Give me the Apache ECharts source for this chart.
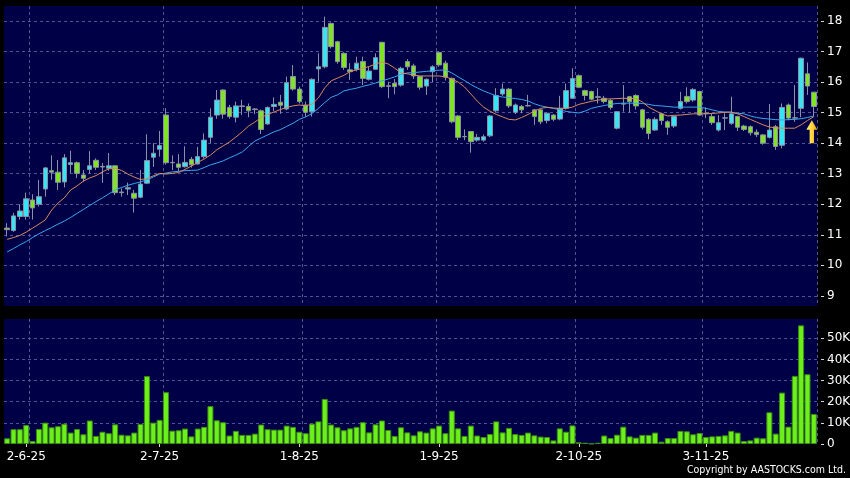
<!DOCTYPE html>
<html>
<head>
<meta charset="utf-8">
<script src="https://cdn.jsdelivr.net/npm/echarts@6/dist/echarts.min.js"></script>
<style>html,body{margin:0;padding:0;background:#000;}#c{width:850px;height:478px;}</style>
</head>
<body>
<div id="c"></div>
<script>
// ---- data ----
const opens = [11.22,11.14,11.60,11.60,12.14,12.00,12.50,13.10,13.05,12.73,
13.30,13.36,12.96,13.14,13.44,13.24,13.18,13.26,12.40,12.50,
12.36,12.23,12.69,13.54,13.80,14.92,13.36,13.32,13.23,13.47,
13.32,13.56,14.19,14.92,15.74,15.17,14.85,15.20,15.20,15.12,
15.06,14.63,15.20,15.34,15.12,16.18,15.77,15.25,15.03,16.43,
16.50,17.92,17.32,16.94,16.40,16.42,16.67,16.09,16.42,17.30,
15.88,15.96,15.90,16.67,16.53,16.18,15.87,16.34,16.97,16.62,
16.12,14.89,14.22,14.38,14.10,14.10,14.24,15.06,15.61,15.77,
15.01,15.20,15.22,15.09,15.09,14.74,14.92,14.79,15.14,15.47,
16.21,15.72,15.69,15.50,15.47,15.40,14.49,15.28,15.52,15.56,
15.09,14.78,14.43,14.96,14.70,14.56,15.14,15.53,15.41,15.69,
14.98,14.87,14.43,14.82,14.65,14.87,14.56,14.54,14.36,14.27,
14.19,14.54,13.93,15.25,14.83,15.14,16.27,15.67];
const closes = [11.17,11.62,11.78,12.18,11.88,12.25,13.19,13.05,12.72,13.52,
13.36,13.01,12.85,13.26,13.21,13.22,13.26,12.38,12.38,12.54,
12.20,12.66,13.43,13.67,13.92,13.36,13.37,13.21,13.37,13.29,
13.56,14.10,14.85,15.41,14.95,14.87,15.22,15.22,15.06,15.10,
14.45,15.17,15.27,15.24,15.98,15.77,15.36,15.01,16.09,16.50,
17.79,17.16,16.67,16.48,16.34,16.62,16.12,16.36,16.80,15.85,
15.86,15.85,16.45,16.50,16.20,15.83,16.09,16.50,16.56,16.16,
14.70,14.19,14.21,14.05,14.19,14.21,14.89,15.56,15.77,15.22,
15.25,15.09,15.23,14.87,14.70,14.98,14.78,15.14,15.72,16.12,
15.83,15.56,15.44,15.52,15.36,15.17,15.03,15.29,15.36,15.22,
14.52,14.32,14.78,14.74,14.52,14.87,15.36,15.36,15.76,14.92,
14.97,14.67,14.67,14.83,14.96,14.52,14.45,14.34,14.28,14.00,
14.43,13.89,15.17,14.82,14.82,16.78,15.87,15.20];
const lows = [10.95,11.10,11.50,11.50,11.50,11.93,12.25,12.80,12.47,12.55,
13.02,12.86,12.74,13.01,13.12,12.70,13.10,12.30,12.25,12.30,
11.73,12.20,12.66,13.22,13.56,13.30,13.12,13.07,13.20,13.20,
13.30,13.50,14.00,14.80,14.80,14.80,14.68,14.92,14.85,14.95,
14.30,14.60,15.05,14.96,15.08,15.72,15.30,14.87,14.87,16.01,
16.45,17.10,16.60,16.40,16.07,16.35,15.90,16.05,16.40,15.80,
15.47,15.60,15.85,16.40,16.10,15.75,15.58,16.00,16.50,16.05,
14.65,14.10,14.10,13.69,14.05,14.05,14.20,15.00,15.55,15.15,
14.95,14.98,15.20,14.60,14.62,14.65,14.72,14.75,15.10,15.45,
15.80,15.40,15.40,15.30,15.30,15.10,14.45,15.03,15.00,15.10,
14.45,14.13,14.40,14.60,14.27,14.50,15.10,15.30,15.35,14.90,
14.82,14.60,14.38,14.43,14.60,14.40,14.40,14.25,14.20,13.95,
14.15,13.78,13.83,14.75,14.70,14.85,15.58,14.89];
const highs = [11.38,11.72,12.00,12.38,12.33,12.80,13.22,13.60,13.45,13.64,
13.75,13.40,13.12,13.74,13.50,13.35,13.68,13.28,12.52,12.71,
12.47,13.12,14.29,14.00,14.40,15.14,13.60,13.64,13.90,13.55,
13.88,14.32,15.14,15.74,15.76,15.25,15.36,15.42,15.30,15.15,
15.10,15.20,15.50,15.58,16.18,16.56,15.85,15.36,16.12,16.94,
18.14,17.95,17.35,16.98,16.62,16.83,16.83,16.50,16.94,17.32,
16.01,16.10,16.50,16.75,16.60,16.20,16.12,16.55,17.00,16.70,
16.15,14.92,14.45,14.40,14.30,14.28,14.92,15.80,15.95,15.80,
15.30,15.25,15.58,15.12,15.12,15.00,14.95,15.55,15.95,16.45,
16.25,15.75,15.72,15.80,15.55,15.45,15.05,15.90,15.55,15.60,
15.12,14.82,14.85,15.00,14.75,14.90,15.68,15.83,15.80,15.72,
15.17,14.98,14.92,14.98,15.52,14.90,14.60,14.58,14.45,14.30,
15.28,14.60,15.30,15.30,15.90,16.80,16.64,15.67];
// fast (orange) and slow (blue) moving-average lines
const maFast = [10.85,10.91,10.98,11.09,11.22,11.35,11.49,11.81,12.04,12.21,
12.47,12.60,12.76,12.86,12.94,13.06,13.16,13.17,13.11,12.99,
12.89,12.81,12.84,12.93,13.01,12.99,13.01,13.04,13.14,13.25,
13.37,13.48,13.61,13.78,13.91,14.04,14.20,14.37,14.56,14.69,
14.84,14.94,15.02,15.10,15.17,15.22,15.25,15.22,15.28,15.48,
15.81,16.04,16.13,16.22,16.34,16.40,16.45,16.51,16.59,16.66,
16.59,16.46,16.30,16.27,16.23,16.20,16.20,16.20,16.20,16.17,
16.10,16.00,15.84,15.61,15.38,15.18,15.05,14.94,14.86,14.78,
14.76,14.84,14.94,15.05,15.14,15.17,15.15,15.14,15.14,15.18,
15.27,15.32,15.37,15.41,15.44,15.45,15.46,15.47,15.46,15.46,
15.35,15.18,15.07,14.96,14.89,14.91,14.92,14.94,14.96,14.96,
14.96,14.97,14.99,15.01,15.02,14.96,14.87,14.78,14.69,14.60,
14.53,14.50,14.49,14.49,14.49,14.60,14.74,14.87];
const maSlow = [10.44,10.55,10.67,10.78,10.91,11.03,11.14,11.24,11.35,11.45,
11.57,11.70,11.83,11.96,12.09,12.21,12.34,12.47,12.55,12.62,
12.68,12.73,12.80,12.89,12.99,13.02,13.06,13.08,13.10,13.11,
13.12,13.20,13.29,13.35,13.42,13.52,13.61,13.71,13.89,14.07,
14.17,14.27,14.37,14.44,14.55,14.65,14.78,14.86,14.97,15.14,
15.33,15.50,15.58,15.71,15.76,15.80,15.86,15.91,15.97,16.04,
16.10,16.17,16.25,16.30,16.31,16.33,16.35,16.37,16.39,16.39,
16.30,16.17,16.05,15.92,15.81,15.71,15.63,15.55,15.51,15.49,
15.46,15.43,15.38,15.29,15.22,15.18,15.14,15.09,15.04,15.01,
14.99,15.05,15.14,15.19,15.23,15.27,15.30,15.31,15.31,15.31,
15.30,15.27,15.23,15.22,15.20,15.18,15.18,15.18,15.18,15.18,
15.14,15.09,15.04,15.02,15.01,14.98,14.96,14.89,14.84,14.81,
14.79,14.77,14.76,14.77,14.78,14.80,14.84,14.89];
const volumes = [2700,7000,7000,9000,1400,7100,10100,7900,8400,9600,
5400,7100,4600,11100,3800,5800,5100,9300,4400,4100,
5400,9500,32100,10100,11400,24500,6300,6500,7300,3600,
7300,8100,17900,11200,10300,4000,6200,4300,4300,4900,
9200,7000,6800,6800,8700,8100,5800,5100,9600,10700,
21300,9200,7900,6500,7400,8100,10300,5500,9300,11100,
6600,3800,7900,5500,4100,6000,5400,7400,8700,5100,
15800,7400,3800,8700,4000,3300,4700,10700,5500,7600,
4700,4300,5400,4100,3500,3300,1700,7400,5800,8800,
800,600,200,600,4000,2800,4400,8200,3600,3000,
4300,4300,5400,1100,2800,2800,6200,6000,4600,5200,
3300,3600,3800,4100,6200,5400,1400,1700,3000,2700,
15000,4900,24300,8200,32200,56100,33000,14200];
const tickLabelText = ['2-6-25','2-7-25','1-8-25','1-9-25','2-10-25','3-11-25'];
const tickLabelIndex = [3,24,46,68,90,110];
const gridLineIndex = [4,25,47,68,90,110];
const arrowPrice = 14.37;
const priceMin = 8.67, priceMax = 18.49;
const volMax = 59100;
const copyrightText = 'Copyright by AASTOCKS.com Ltd.';

// ---- chart ----
const categories = opens.map((_, i) => 'd' + i);
const candles = opens.map((o, i) => [o, closes[i], lows[i], highs[i]]);

const bg = '#000046';
const gridColor = '#52529a';
const font = 'DejaVu Sans';

const chart = echarts.init(document.getElementById('c'), null, {renderer: 'canvas'});
chart.setOption({
  backgroundColor: '#000000',
  animation: false,
  grid: [
    {left: 4, right: 33, top: 6, height: 300, show: true, backgroundColor: bg, borderWidth: 0, outerBoundsMode: 'none'},
    {left: 4, right: 33, top: 319, height: 125, show: true, backgroundColor: bg, borderWidth: 0, outerBoundsMode: 'none'}
  ],
  xAxis: [
    {
      type: 'category', gridIndex: 0, data: categories, boundaryGap: true,
      axisLine: {show: false}, axisTick: {show: false}, axisLabel: {show: false},
      splitLine: {show: true, interval: (i) => gridLineIndex.includes(i), lineStyle: {color: gridColor, type: [3, 3], width: 1}}
    },
    {
      type: 'category', gridIndex: 1, data: categories, boundaryGap: true, offset: 2,
      axisLine: {show: false},
      axisTick: {show: true, alignWithLabel: true, length: 3, interval: (i) => tickLabelIndex.includes(i), lineStyle: {color: '#d8d8d8'}},
      axisLabel: {
        show: true, interval: (i) => tickLabelIndex.includes(i), margin: 5,
        color: '#ffffff', fontSize: 12, fontFamily: font,
        formatter: (v, i) => { const k = tickLabelIndex.indexOf(i); return k >= 0 ? tickLabelText[k] : ''; }
      },
      splitLine: {show: true, interval: (i) => gridLineIndex.includes(i), lineStyle: {color: gridColor, type: [3, 3], width: 1}}
    }
  ],
  yAxis: [
    {
      type: 'value', gridIndex: 0, position: 'right', min: priceMin, max: priceMax, splitNumber: 10, offset: 4,
      axisLine: {show: false},
      axisTick: {show: true, length: 3, lineStyle: {color: '#d8d8d8'}},
      axisLabel: {color: '#ffffff', fontSize: 12, fontFamily: font, margin: 6, showMinLabel: false, showMaxLabel: false,
        formatter: (v) => Number.isInteger(v) ? String(v) : ''},
      splitLine: {show: true, showMinLine: false, showMaxLine: false, lineStyle: {color: gridColor, type: [3, 3], width: 1}}
    },
    {
      type: 'value', gridIndex: 1, position: 'right', min: 0, max: volMax, splitNumber: 6, offset: 4,
      axisLine: {show: false},
      axisTick: {show: true, length: 3, lineStyle: {color: '#d8d8d8'}},
      axisLabel: {color: '#ffffff', fontSize: 12, fontFamily: font, margin: 6, showMaxLabel: false,
        formatter: (v) => v === 0 ? '0' : (v % 10000 === 0 ? (v / 1000) + 'K' : '')},
      splitLine: {show: true, showMinLine: false, showMaxLine: false, lineStyle: {color: gridColor, type: [3, 3], width: 1}}
    }
  ],
  series: [
    {
      type: 'candlestick', xAxisIndex: 0, yAxisIndex: 0, data: candles, barWidth: 5,
      itemStyle: {color: '#36e4f4', color0: '#80e424', borderColor: '#8c90a6', borderColor0: '#8c90a6', borderColorDoji: '#8c90a6', borderWidth: 1},
      markPoint: {
        silent: true, label: {show: false},
        data: [{
          coord: [categories[categories.length - 1], arrowPrice],
          symbol: 'path://M5,0L10,9L7,9L7,22L3,22L3,9L0,9Z', symbolSize: [11, 23], symbolOffset: [-2, 0],
          itemStyle: {color: {type: 'linear', x: 0, y: 0, x2: 1, y2: 0, colorStops: [{offset: 0, color: '#fff27a'}, {offset: 0.55, color: '#ffd23a'}, {offset: 1, color: '#e8940c'}]}}
        }]
      }
    },
    {type: 'line', xAxisIndex: 0, yAxisIndex: 0, data: maSlow, showSymbol: false, lineStyle: {color: '#3aa6ee', width: 1}, z: 3},
    {type: 'line', xAxisIndex: 0, yAxisIndex: 0, data: maFast, showSymbol: false, lineStyle: {color: '#d88a5c', width: 1}, z: 3},
    {
      type: 'bar', xAxisIndex: 1, yAxisIndex: 1, data: volumes, barWidth: 6,
      itemStyle: {color: '#6cf01c', borderColor: '#3c8c12', borderWidth: 1}
    }
  ],
  graphic: [{
    type: 'text', right: 4, top: 465,
    style: {text: copyrightText, fill: '#ffffff', font: '10.5px "DejaVu Sans Condensed", "DejaVu Sans"'}
  }]
});
</script>
</body>
</html>
